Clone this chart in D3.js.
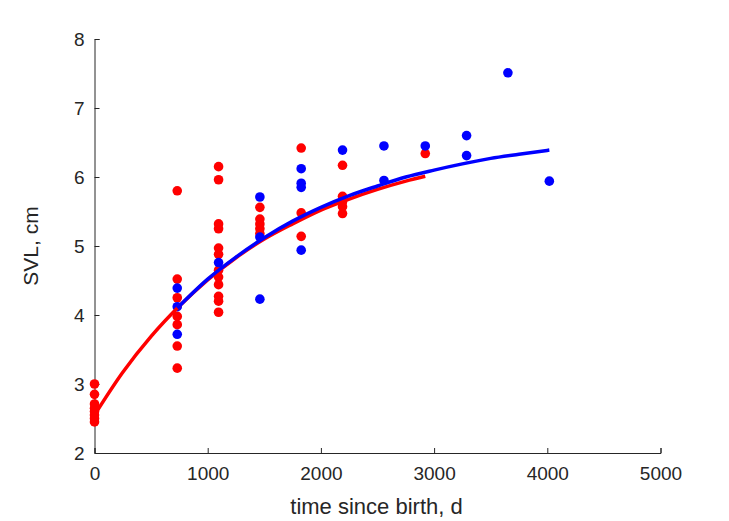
<!DOCTYPE html>
<html><head><meta charset="utf-8">
<script src="https://cdn.jsdelivr.net/npm/d3@7"></script>
<style>body{margin:0;background:#fff}svg{display:block}text{font-family:"Liberation Sans",Arial,sans-serif;fill:#262626}</style>
</head><body>
<svg id="c" width="729" height="521"></svg>
<script>
// Observed data (days since birth, SVL in cm)
const redT = [0,0,0,0,0,0,0,0,
  731,731,731,731,731,731,731,
  1096,1096,1096,1096,1096,1096,1096,1096,1096,1096,1096,1096,
  1461,1461,1461,1461,1461,
  1826,1826,1826,
  2191,2191,2191,2191,2191,
  2922];
const redL = [3.0,2.85,2.71,2.65,2.6,2.55,2.5,2.45,
  5.80,4.52,4.25,3.98,3.86,3.55,3.23,
  6.15,5.96,5.32,5.25,4.97,4.88,4.65,4.55,4.44,4.27,4.20,4.04,
  5.56,5.39,5.32,5.25,5.18,
  6.42,5.48,5.14,
  6.17,5.72,5.64,5.57,5.47,
  6.34];
const blueT = [731,731,731,1096,1461,1461,1461,1826,1826,1826,1826,2191,2557,2557,2922,3287,3287,3652,4018];
const blueL = [4.39,4.12,3.72,4.76,5.71,5.13,4.23,6.12,5.91,5.85,4.94,6.39,6.45,5.95,6.45,6.60,6.31,7.51,5.94];
// Fitted growth curves
const redCurveT = [0,250,500,750,1000,1250,1500,1750,2000,2250,2500,2750,2922];
const redCurveL = [2.55,3.17,3.69,4.13,4.51,4.83,5.10,5.32,5.52,5.68,5.82,5.94,6.01];
const blueCurveT = [731,1000,1250,1500,1750,2000,2250,2500,2750,3000,3250,3500,3750,4018];
const blueCurveL = [4.10,4.52,4.84,5.12,5.36,5.56,5.73,5.87,6.00,6.10,6.19,6.27,6.33,6.39];
const xTicks = [0,1000,2000,3000,4000,5000];
const yTicks = [2,3,4,5,6,7,8];

const svg = d3.select("#c");
const L = 94.5, R = 660.5, T = 39, B = 453;
const x = d3.scaleLinear().domain([0,5000]).range([L,R]);
const y = d3.scaleLinear().domain([2,8]).range([B,T]);

const xa = svg.append("g").attr("transform",`translate(0,${B})`)
  .call(d3.axisBottom(x).tickValues(xTicks).tickFormat(d3.format("d")).tickSizeInner(-5).tickSizeOuter(-5).tickPadding(14));
const ya = svg.append("g").attr("transform",`translate(${L},0)`)
  .call(d3.axisLeft(y).tickValues(yTicks).tickFormat(d3.format("d")).tickSizeInner(-5).tickSizeOuter(-5).tickPadding(10));
[xa,ya].forEach(a=>{
  a.selectAll("path,line").attr("stroke","#262626").attr("stroke-width",1);
  a.selectAll("text").attr("font-size",19).attr("font-family","Liberation Sans, Arial, sans-serif").attr("fill","#262626");
});

svg.append("text").attr("x",(L+R)/2 - 1).attr("y",514).attr("text-anchor","middle").attr("font-size",22).text("time since birth, d");
svg.append("text").attr("transform",`translate(38,${(T+B)/2}) rotate(-90)`).attr("text-anchor","middle").attr("font-size",21).text("SVL, cm");

const g = svg.append("g");
g.selectAll("circle.r").data(redT.map((t,i)=>[t,redL[i]])).enter().append("circle")
  .attr("cx",d=>x(d[0])).attr("cy",d=>y(d[1])).attr("r",4.8).attr("fill","#ff0000");
g.selectAll("circle.b").data(blueT.map((t,i)=>[t,blueL[i]])).enter().append("circle")
  .attr("cx",d=>x(d[0])).attr("cy",d=>y(d[1])).attr("r",4.8).attr("fill","#0000ff");

const line = d3.line().x(d=>x(d[0])).y(d=>y(d[1])).curve(d3.curveMonotoneX);
g.append("path").datum(redCurveT.map((t,i)=>[t,redCurveL[i]])).attr("d",line)
  .attr("fill","none").attr("stroke","#ff0000").attr("stroke-width",3.5);
g.append("path").datum(blueCurveT.map((t,i)=>[t,blueCurveL[i]])).attr("d",line)
  .attr("fill","none").attr("stroke","#0000ff").attr("stroke-width",3.5);
</script>
</body></html>
